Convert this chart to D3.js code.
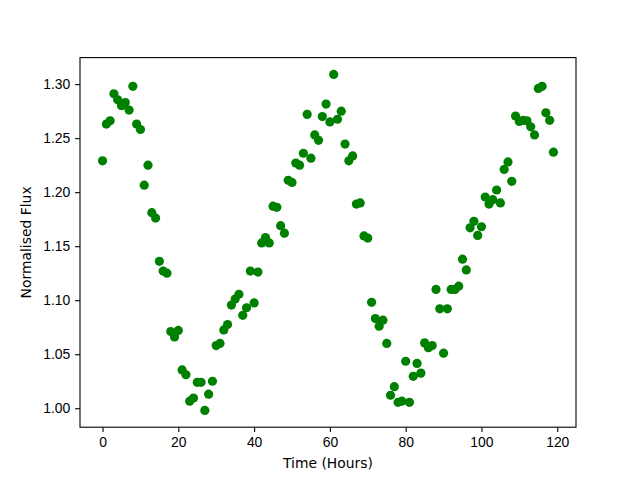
<!DOCTYPE html>
<html>
<head>
<meta charset="utf-8">
<script src="https://cdn.jsdelivr.net/npm/d3@7"></script>
<style>
  html, body { margin: 0; padding: 0; background: #fff; }
  svg { display: block; font-family: "DejaVu Sans", sans-serif; }
</style>
</head>
<body>
<div id="chart"></div>
<script>
// hours since start of observation
const hours = d3.range(0, 120);

// normalised flux
const flux = [
    1.229, 1.263, 1.266, 1.291, 1.2855, 1.280, 1.283, 1.276, 1.298, 1.263,
    1.258, 1.2065, 1.225, 1.181, 1.176, 1.136, 1.127, 1.125, 1.071, 1.066,
    1.072, 1.0355, 1.031, 1.0065, 1.0095, 1.024, 1.024, 0.998, 1.013, 1.025,
    1.058, 1.060, 1.0725, 1.0775, 1.0955, 1.101, 1.1055, 1.086, 1.093, 1.127,
    1.0975, 1.126, 1.153, 1.158, 1.153, 1.187, 1.186, 1.169, 1.162, 1.211,
    1.209, 1.227, 1.225, 1.236, 1.272, 1.2315, 1.253, 1.248, 1.270, 1.2815,
    1.265, 1.309, 1.2675, 1.275, 1.2445, 1.229, 1.2335, 1.189, 1.190, 1.1595,
    1.1575, 1.098, 1.083, 1.076, 1.0815, 1.060, 1.012, 1.020, 1.0055, 1.0065,
    1.0435, 1.0055, 1.0295, 1.0415, 1.0325, 1.0605, 1.056, 1.058, 1.110, 1.092,
    1.051, 1.092, 1.110, 1.110, 1.113, 1.138, 1.128, 1.167, 1.173, 1.160,
    1.168, 1.1955, 1.189, 1.193, 1.202, 1.190, 1.221, 1.228, 1.210, 1.2705,
    1.2655, 1.2665, 1.266, 1.2605, 1.253, 1.296, 1.298, 1.2735, 1.2665, 1.237
];

const xTicks = [0, 20, 40, 60, 80, 100, 120];
const yTicks = [1.00, 1.05, 1.10, 1.15, 1.20, 1.25, 1.30];

const width = 640;
const height = 480;
const margin = { top: 57.6, right: 64, bottom: 52.8, left: 80 };

const svg = d3.select('#chart').append('svg')
    .attr('width', width)
    .attr('height', height);

// matplotlib style 5% padding around the data
const xExt = d3.extent(hours);
const yExt = d3.extent(flux);
const xPad = (xExt[1] - xExt[0]) * 0.05;
const yPad = (yExt[1] - yExt[0]) * 0.05;

const x = d3.scaleLinear()
    .domain([xExt[0] - xPad, xExt[1] + xPad])
    .range([margin.left, width - margin.right]);

const y = d3.scaleLinear()
    .domain([yExt[0] - yPad, yExt[1] + yPad])
    .range([height - margin.bottom, margin.top]);

const points = hours.map((h, i) => ({ h, f: flux[i] }));

svg.append('g')
    .selectAll('circle')
    .data(points)
    .join('circle')
    .attr('cx', d => x(d.h))
    .attr('cy', d => y(d.f))
    .attr('r', 4.6)
    .attr('fill', '#008000');

// axes
const xAxis = svg.append('g')
    .attr('transform', `translate(0,${height - margin.bottom})`)
    .call(d3.axisBottom(x).tickValues(xTicks).tickSize(4.9).tickPadding(4.9));

const yAxis = svg.append('g')
    .attr('transform', `translate(${margin.left},0)`)
    .call(d3.axisLeft(y).tickValues(yTicks).tickFormat(d3.format('.2f')).tickSize(4.9).tickPadding(4.9));

[xAxis, yAxis].forEach(a => {
    a.select('.domain').remove();
    a.selectAll('line').attr('stroke', '#000').attr('stroke-width', 1.1);
    a.selectAll('text').style('font-size', '13.9px').attr('fill', '#000');
});

// frame
svg.append('rect')
    .attr('x', margin.left)
    .attr('y', margin.top)
    .attr('width', width - margin.left - margin.right)
    .attr('height', height - margin.top - margin.bottom)
    .attr('fill', 'none')
    .attr('stroke', '#000')
    .attr('stroke-width', 1.1);

// labels
svg.append('text')
    .attr('x', (margin.left + width - margin.right) / 2)
    .attr('y', 468)
    .attr('text-anchor', 'middle')
    .style('font-size', '13.9px')
    .text('Time (Hours)');

svg.append('text')
    .attr('transform', `translate(31,${(margin.top + height - margin.bottom) / 2}) rotate(-90)`)
    .attr('text-anchor', 'middle')
    .style('font-size', '13.9px')
    .text('Normalised Flux');
</script>
</body>
</html>
